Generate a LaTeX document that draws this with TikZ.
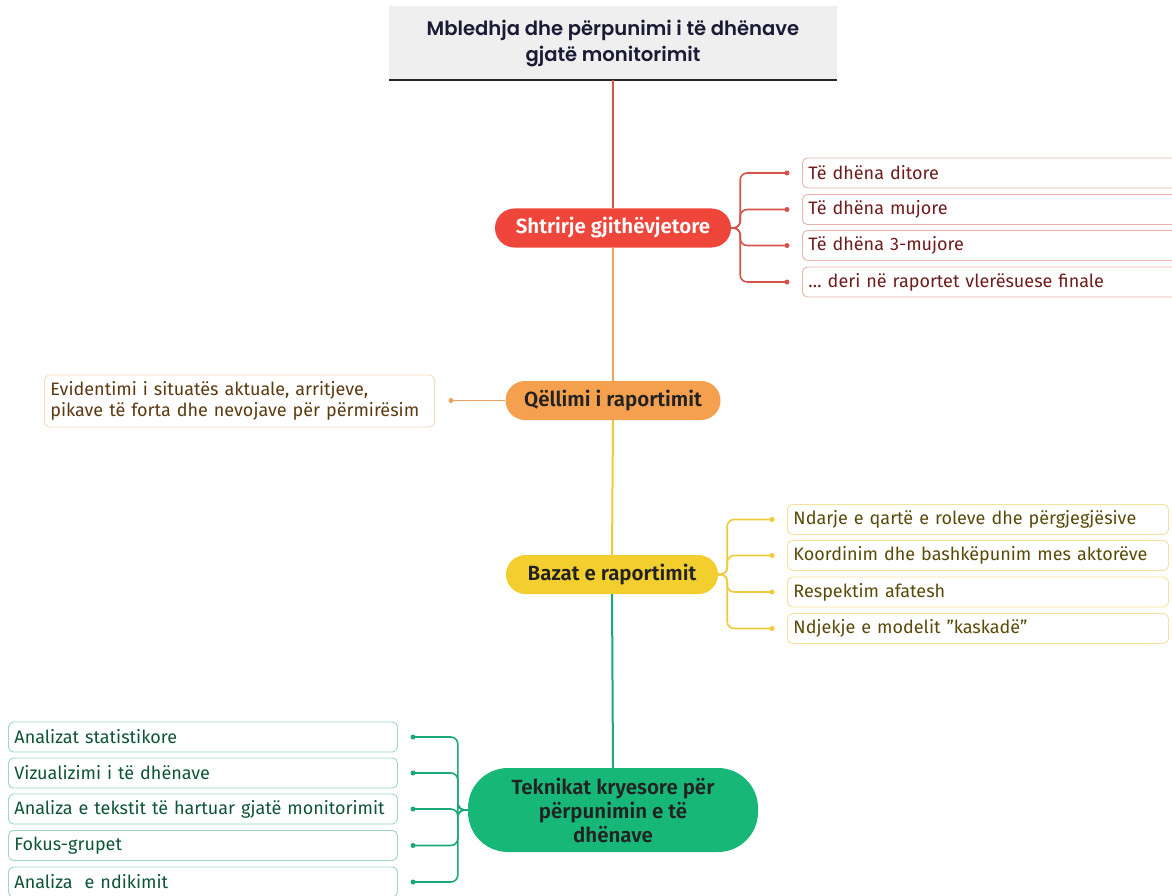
\documentclass[tikz,border=0pt]{standalone}
\usepackage{fontspec}
\setmainfont{Fira Sans}[BoldFont={Fira Sans SemiBold}]
\newfontfamily\titlefont{Poppins}[BoldFont={Poppins SemiBold}]
\hyphenpenalty=10000
\newcommand{\dq}{\symbol{34}}
\definecolor{titlefill}{HTML}{EFEFEF}
\definecolor{titletext}{HTML}{1B1B35}
\definecolor{topictext}{HTML}{222222}
\definecolor{redfill}{HTML}{EF463C}
\definecolor{redline}{HTML}{D4544B}
\definecolor{redborder}{HTML}{E6B3AD}
\definecolor{redtext}{HTML}{6E1C1C}
\definecolor{orangefill}{HTML}{F4A04E}
\definecolor{orangeline}{HTML}{EAA35C}
\definecolor{orangeborder}{HTML}{F3DDB6}
\definecolor{orangetext}{HTML}{5C3A10}
\definecolor{yellowfill}{HTML}{F2CE2E}
\definecolor{yellowline}{HTML}{EFCB3A}
\definecolor{yellowborder}{HTML}{F4E29C}
\definecolor{yellowtext}{HTML}{5A4A08}
\definecolor{greenfill}{HTML}{17B877}
\definecolor{greenline}{HTML}{1AA878}
\definecolor{greenborder}{HTML}{9BD8BD}
\definecolor{greentext}{HTML}{0E5535}
\begin{document}
\begin{tikzpicture}[x=1pt,y=-1pt,
  topic/.style={minimum height=39pt, inner sep=0pt, align=center, text=topictext,
    font=\bfseries\fontsize{20.5}{24}\selectfont},
  leaf/.style={draw, line width=0.9pt, rounded corners=5pt, fill=white, anchor=west,
    minimum height=30pt, inner xsep=6pt, inner ysep=0pt, align=left,
    font=\fontsize{18}{21}\selectfont},
  dot/.style={circle, fill, inner sep=0pt, minimum size=5pt},
  trunk/.style={line width=2pt},
  branch/.style={line width=1.6pt, rounded corners=7pt}
]
\useasboundingbox (0,0) rectangle (1172,896);

% title box
\node[fill=titlefill, minimum width=448pt, minimum height=74pt, inner sep=0pt,
  align=center, text=titletext, font=\titlefont\bfseries\fontsize{19.6}{26}\selectfont]
  (title) at (613,43) {Mbledhja dhe përpunimi i të dhënave\\gjatë monitorimit};
\draw[line width=2pt, black!85] (title.south west) -- (title.south east);

% main topics
\node[topic, fill=redfill, text=white, minimum width=236pt, rounded corners=19.5pt]
  (sh) at (613,228) {Shtrirje gjithëvjetore};
\node[topic, fill=orangefill, minimum width=215pt, rounded corners=19.5pt]
  (q) at (613,400.5) {Qëllimi i raportimit};
\node[topic, fill=yellowfill, minimum width=212pt, rounded corners=19.5pt]
  (b) at (612,574.5) {Bazat e raportimit};
\node[topic, fill=greenfill, minimum width=290pt, minimum height=84pt,
  rounded corners=40pt] (t) at (613,810)
  {Teknikat kryesore për\\përpunimin e të\\dhënave};

% trunk
\draw[trunk, redline] (title.south) -- (sh.north);
\draw[trunk, orangeline] (sh.south) -- (q.north);
\draw[trunk, yellowline] (q.south) -- (b.north);
\draw[trunk, greenline] (b.south) -- (t.north);

% red branch
\foreach \i/\y/\txt in {1/173/Të dhëna ditore, 2/209.5/Të dhëna mujore,
    3/245.5/Të dhëna 3-mujore, 4/282/\dots\ deri në raportet vlerësuese finale}{
  \node[dot, redline] (rd\i) at (787,\y) {};
  \node[leaf, draw=redborder, text=redtext, text width=368pt] (rl\i) at (802,\y) {\txt};
  \draw[branch, redline] (sh.east) -- ++(9,0) |- (rd\i.center);
}

% orange branch
\node[dot, orangeline] (od) at (451,400.5) {};
\node[leaf, draw=orangeborder, text=orangetext, text width=378pt, minimum height=52pt]
  (ol) at (44,401) {Evidentimi i situatës aktuale, arritjeve,\\pikave të forta dhe nevojave për përmirësim};
\draw[branch, orangeline] (q.west) -- (od.center);

% yellow branch
\foreach \i/\y/\txt in {1/519.5/Ndarje e qartë e roleve dhe përgjegjësive,
    2/555.5/Koordinim dhe bashkëpunim mes aktorëve, 3/592/Respektim afatesh,
    4/628.5/Ndjekje e modelit \dq kaskadë\dq}{
  \node[dot, yellowline] (yd\i) at (772,\y) {};
  \node[leaf, draw=yellowborder, text=yellowtext, text width=369pt] (yl\i) at (787,\y) {\txt};
  \draw[branch, yellowline] (b.east) -- ++(9,0) |- (yd\i.center);
}

% green branch
\foreach \i/\y/\txt in {1/737/Analizat statistikore, 2/773/Vizualizimi i të dhënave,
    3/809/Analiza e tekstit të hartuar gjatë monitorimit, 4/845.5/Fokus-grupet,
    5/882/Analiza\ \ e ndikimit}{
  \node[dot, greenline] (gd\i) at (413,\y) {};
  \node[leaf, draw=greenborder, text=greentext, text width=377pt] (gl\i) at (8,\y) {\txt};
  \draw[branch, greenline] (t.west) -- ++(-10,0) |- (gd\i.center);
}
\end{tikzpicture}
\end{document}
